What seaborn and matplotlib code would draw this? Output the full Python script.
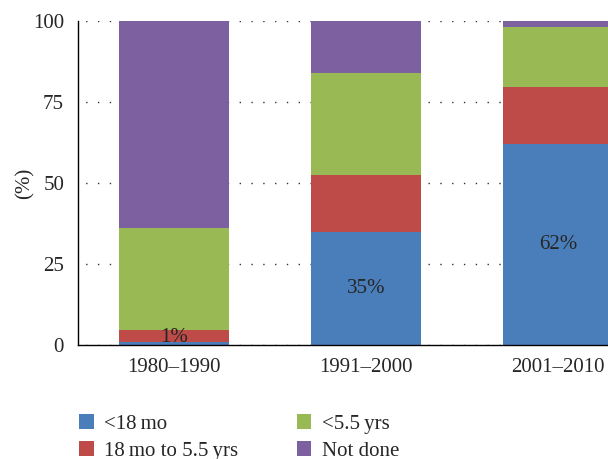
import matplotlib
matplotlib.use("Agg")
import matplotlib.pyplot as plt
from matplotlib.patches import Patch
import seaborn as sns
import pandas as pd
import numpy as np

periods = ["1980\u20131990", "1991\u20132000", "2001\u20132010"]
series_names = ["<18\u2009mo", "18\u2009mo to 5.5\u2009yrs", "<5.5\u2009yrs", "Not done"]
lt18 = [1, 35, 62]
mid = [3.5, 17.5, 17.5]
lt55 = [31.5, 31.5, 18.5]
notdone = [64, 16, 2]
bar_labels = ["1%", "35%", "62%"]
yticks = [0, 25, 50, 75, 100]
colors = ["#4A7EBB", "#BE4B48", "#98B954", "#7D60A0"]

sns.set_style("white")
plt.rcParams["font.family"] = ["Liberation Serif", "DejaVu Serif"]

series = [lt18, mid, lt55, notdone]
cum = np.cumsum(np.array(series), axis=0)
rows = []
for si, name in enumerate(series_names):
    for pi, p in enumerate(periods):
        rows.append({"period": p, "series": name, "cum": cum[si, pi]})
df = pd.DataFrame(rows)

fig = plt.figure(figsize=(6.08, 4.59), dpi=100)
ax = fig.add_axes([78/608, 1 - 345/459, 576/608, 324/459])

for si in reversed(range(len(series_names))):
    sub = df[df["series"] == series_names[si]]
    sns.barplot(data=sub, x="period", y="cum", order=periods, color=colors[si],
                width=0.57, saturation=1, ax=ax, zorder=2, linewidth=0)

for pi, lab in enumerate(bar_labels):
    ax.text(pi, max(lt18[pi] / 2, 2.2), lab, ha="center", va="center", fontsize=15, zorder=3)

ax.set_xlim(-0.5, 2.5)
ax.set_ylim(0, 100)
ax.set_yticks(yticks)
ax.yaxis.grid(True, linestyle=(3, (1, 7.5)), color="#333333", linewidth=1, zorder=0)
ax.set_axisbelow(True)
ax.tick_params(axis="both", length=0, labelsize=15)
ax.tick_params(axis="y", pad=10)
ax.tick_params(axis="x", pad=9)
ax.set_xlabel("")
ax.set_ylabel("(%)", fontsize=15, labelpad=-1)
for s in ["top", "right"]:
    ax.spines[s].set_visible(False)
for s in ["left", "bottom"]:
    ax.spines[s].set_color("black")
    ax.spines[s].set_linewidth(1)

handles = [Patch(facecolor=colors[i], edgecolor="none") for i in range(4)]
fig.legend(handles, series_names, ncol=2,
           loc="upper left", bbox_to_anchor=(71/608, 1 - 406/459), frameon=False,
           fontsize=15, handlelength=0.7, handleheight=0.7, handletextpad=0.5,
           columnspacing=2.8, labelspacing=0.35, borderaxespad=0)

fig.savefig("out.png", dpi=100)
